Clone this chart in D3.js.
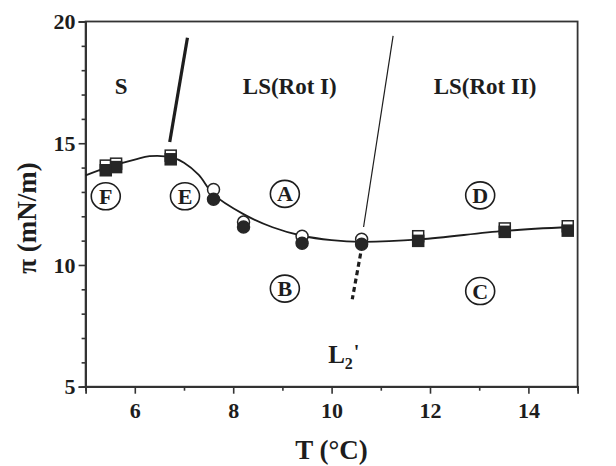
<!DOCTYPE html>
<html>
<head>
<meta charset="utf-8">
<script src="https://cdn.jsdelivr.net/npm/d3@7"></script>
<style>
  html, body { margin: 0; padding: 0; background: #ffffff; }
  svg { display: block; }
  text { font-family: "Liberation Serif", "Times New Roman", serif; fill: #1d1d1d; }
</style>
</head>
<body>
<svg id="chart" width="616" height="466"></svg>
<script>
// Surface pressure vs temperature phase diagram (transition points)
const openSquareT   = [5.41, 5.62, 6.73, 11.76, 13.52, 14.80];
const openSquarePi  = [14.08, 14.16, 14.49, 11.18, 11.50, 11.59];
const filledSquareT  = [5.41, 5.62, 6.73, 11.76, 13.52, 14.80];
const filledSquarePi = [13.89, 14.02, 14.34, 10.99, 11.36, 11.41];
const openCircleT   = [7.60, 8.21, 9.40, 10.61];
const openCirclePi  = [13.10, 11.76, 11.18, 11.06];
const filledCircleT  = [7.60, 8.21, 9.40, 10.61];
const filledCirclePi = [12.70, 11.56, 10.89, 10.85];

// smooth guide through the transition points
const fitT  = [5.0, 5.5, 6.0, 6.3, 6.75, 7.0, 7.3, 7.6, 8.2, 8.8, 9.4, 10.0, 10.6, 11.8, 13.5, 14.85];
const fitPi = [13.68, 14.05, 14.33, 14.47, 14.42, 14.2, 13.7, 12.9, 12.1, 11.55, 11.2, 11.02, 10.95, 11.05, 11.4, 11.56];

// phase boundaries [T0, pi0, T1, pi1]
const boundaryS    = [6.71, 15.05, 7.07, 19.33];
const boundaryRot  = [10.65, 11.56, 11.25, 19.41];
const boundaryL2   = [10.59, 10.47, 10.42, 8.59];

// phase region names
const phaseNames = ["S", "LS(Rot I)", "LS(Rot II)"];
const phaseT     = [5.72, 9.15, 13.12];
const phasePi    = [17.03, 17.03, 17.03];

// circled letters
const letterNames = ["F", "E", "A", "D", "B", "C"];
const letterT     = [5.41, 7.02, 9.05, 13.02, 9.05, 13.02];
const letterPi    = [12.82, 12.82, 12.92, 12.86, 9.03, 8.93];

const xMajor = [6, 8, 10, 12, 14];
const xMinor = [5, 7, 9, 11, 13, 15];
const yMajor = [5, 10, 15, 20];
const yMinor = [6, 7, 8, 9, 11, 12, 13, 14, 16, 17, 18, 19];

const ink = "#1d1d1d";
const svg = d3.select("#chart");

const x = d3.scaleLinear().domain([5, 15]).range([85.6, 577.6]);
const y = d3.scaleLinear().domain([5, 20]).range([386.7, 21.5]);

// frame
svg.append("rect")
  .attr("x", x(5)).attr("y", y(20))
  .attr("width", x(15) - x(5)).attr("height", y(5) - y(20))
  .attr("fill", "none").attr("stroke", "#333").attr("stroke-width", 1.8);

// axes
const gx = svg.append("g").attr("transform", `translate(0,${y(5)})`);
gx.call(d3.axisBottom(x).tickValues(xMinor).tickSize(4).tickFormat(""));
const gxMaj = svg.append("g").attr("transform", `translate(0,${y(5)})`);
gxMaj.call(d3.axisBottom(x).tickValues(xMajor).tickSize(7).tickPadding(9).tickFormat(d3.format("d")));

const gy = svg.append("g").attr("transform", `translate(${x(5)},0)`);
gy.call(d3.axisLeft(y).tickValues(yMinor).tickSize(4).tickFormat(""));
const gyMaj = svg.append("g").attr("transform", `translate(${x(5)},0)`);
gyMaj.call(d3.axisLeft(y).tickValues(yMajor).tickSize(7).tickPadding(3).tickFormat(d3.format("d")));

svg.selectAll(".domain").attr("stroke", "#333").attr("stroke-width", 1.8);
svg.selectAll(".tick line").attr("stroke", "#333").attr("stroke-width", 1.6);
svg.selectAll(".tick text")
  .attr("font-family", "Liberation Serif, serif")
  .attr("font-size", 22).attr("font-weight", "bold").attr("fill", ink);

// axis titles
svg.append("text")
  .attr("x", x(10)).attr("y", 459)
  .attr("text-anchor", "middle")
  .attr("font-size", 27).attr("font-weight", "bold")
  .text("T (°C)");

svg.append("text")
  .attr("transform", `translate(36,${218}) rotate(-90)`)
  .attr("text-anchor", "middle")
  .attr("font-size", 27).attr("font-weight", "bold")
  .text("π (mN/m)");

// phase boundaries
function seg(b, w, dash) {
  svg.append("line")
    .attr("x1", x(b[0])).attr("y1", y(b[1]))
    .attr("x2", x(b[2])).attr("y2", y(b[3]))
    .attr("stroke", ink).attr("stroke-width", w)
    .attr("stroke-dasharray", dash || null);
}
seg(boundaryS, 3.2);
seg(boundaryRot, 1.2);
seg(boundaryL2, 3.2, "5,3.5");

// fitted curve
const fitData = fitT.map((t, i) => [t, fitPi[i]]);
svg.append("path")
  .datum(fitData)
  .attr("fill", "none").attr("stroke", ink).attr("stroke-width", 1.8)
  .attr("d", d3.line().x(d => x(d[0])).y(d => y(d[1])).curve(d3.curveCatmullRom.alpha(0.5)));

// markers: open ones first, filled drawn over them
const sq = 11, cr = 6;
function squares(ts, ps, filled) {
  svg.append("g").selectAll("rect").data(ts.map((t, i) => [t, ps[i]])).join("rect")
    .attr("x", d => x(d[0]) - sq / 2).attr("y", d => y(d[1]) - sq / 2)
    .attr("width", sq).attr("height", sq)
    .attr("fill", filled ? "#262626" : "#fff")
    .attr("stroke", "#262626").attr("stroke-width", 1.5);
}
function circles(ts, ps, filled) {
  svg.append("g").selectAll("circle").data(ts.map((t, i) => [t, ps[i]])).join("circle")
    .attr("cx", d => x(d[0])).attr("cy", d => y(d[1])).attr("r", cr)
    .attr("fill", filled ? "#262626" : "#fff")
    .attr("stroke", "#262626").attr("stroke-width", 1.5);
}
squares(openSquareT, openSquarePi, false);
circles(openCircleT, openCirclePi, false);
squares(filledSquareT, filledSquarePi, true);
circles(filledCircleT, filledCirclePi, true);

// phase names
svg.append("g").selectAll("text").data(phaseNames).join("text")
  .attr("x", (d, i) => x(phaseT[i])).attr("y", (d, i) => y(phasePi[i]))
  .attr("text-anchor", "middle")
  .attr("font-size", 23).attr("font-weight", "bold")
  .text(d => d);

// L2' label
const l2 = svg.append("text")
  .attr("x", x(9.93)).attr("y", y(5.96))
  .attr("font-size", 25).attr("font-weight", "bold");
l2.append("tspan").text("L");
l2.append("tspan").attr("font-size", 16).attr("dy", 6).text("2");
l2.append("tspan").attr("font-size", 20).attr("dy", -10).attr("dx", 1).text("'");

// circled letters
const lg = svg.append("g").selectAll("g").data(letterNames).join("g")
  .attr("transform", (d, i) => `translate(${x(letterT[i])},${y(letterPi[i])})`);
lg.append("ellipse").attr("rx", 14.5).attr("ry", 13.5)
  .attr("fill", "none").attr("stroke", ink).attr("stroke-width", 1.6);
lg.append("text")
  .attr("text-anchor", "middle").attr("dy", 7.5)
  .attr("font-size", 22).attr("font-weight", "bold")
  .text(d => d);
</script>
</body>
</html>
